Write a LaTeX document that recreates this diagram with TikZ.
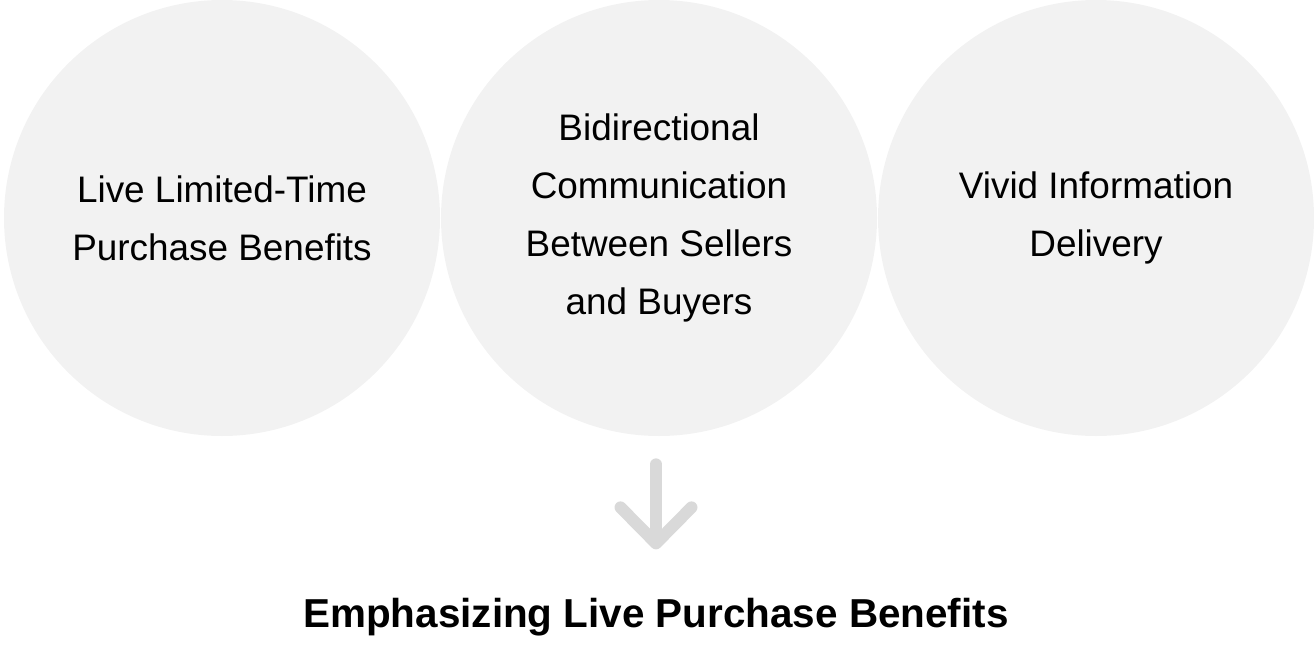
\documentclass[tikz,border=0pt]{standalone}
\usepackage{fontspec}
\setmainfont{Liberation Sans}
\usetikzlibrary{arrows.meta, positioning}
\definecolor{circfill}{HTML}{F2F2F2}
\definecolor{arrgray}{HTML}{D9D9D9}
\tikzset{
  circbox/.style = {circle, fill=circfill, minimum size=8.72cm, inner sep=0pt, align=center,
                    font=\fontsize{21}{32.9}\selectfont},
  downarr/.style = {-{Straight Barb[length=0.72cm, width=1.42cm, round]}, draw=arrgray,
                    line width=0.24cm, line cap=round, line join=round},
}
\begin{document}
\begin{tikzpicture}

\useasboundingbox (0,0) rectangle (26.28,-12.96);

%% ---- three benefit circles ----
\node[circbox] (limited) at (4.44,-4.36) {Live Limited-Time\\Purchase Benefits};
\node[circbox] (bidir)   at (13.18,-4.36) {Bidirectional\\Communication\\Between Sellers\\and Buyers};
\node[circbox] (vivid)   at (21.92,-4.36) {Vivid Information\\Delivery};

%% ---- outcome ----
\node[font=\fontsize{23}{28}\selectfont\bfseries] (emph) at (13.12,-12.34)
  {Emphasizing Live Purchase Benefits};

\draw[downarr, shorten <=0.56cm, shorten >=0.85cm] (bidir.south -| emph.north) -- (emph.north);

\end{tikzpicture}
\end{document}
